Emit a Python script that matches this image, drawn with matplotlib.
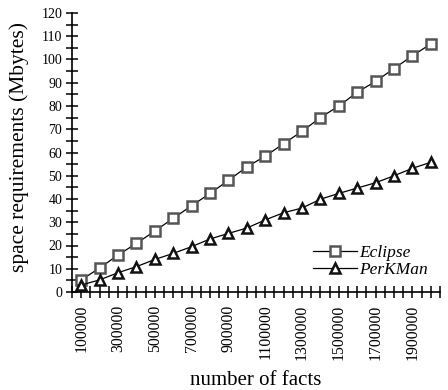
import matplotlib
matplotlib.use("Agg")
import matplotlib.pyplot as plt
from matplotlib.ticker import MultipleLocator, FixedLocator

facts = [100000 * i for i in range(1, 21)]
eclipse = [5.2, 10.3, 15.9, 20.9, 26.2, 31.7, 37.1, 42.4, 48.0, 53.8,
           58.4, 63.8, 69.1, 75.0, 80.0, 85.9, 90.6, 96.1, 101.6, 106.7]
perkman = [3.0, 5.2, 8.3, 10.9, 14.0, 16.6, 19.5, 22.8, 25.2, 27.5,
           31.0, 34.1, 36.1, 39.9, 42.4, 44.7, 47.0, 50.0, 53.2, 55.8]
xtick_labels = [100000, 300000, 500000, 700000, 900000, 1100000,
                1300000, 1500000, 1700000, 1900000]

plt.rcParams['font.family'] = ['Liberation Serif', 'DejaVu Serif']

fig = plt.figure(figsize=(4.48, 3.9), dpi=100)
ax = fig.add_axes([72/448, 1-292/390, (440-72)/448, (292-13)/390])

ax.plot(facts, eclipse, color='black', lw=0.9, marker='s', markersize=7,
        markerfacecolor='white', markeredgecolor='#555555', markeredgewidth=1.8,
        label='Eclipse')
ax.plot(facts, perkman, color='black', lw=0.9, marker='^', markersize=7.5,
        markerfacecolor='white', markeredgecolor='#111111', markeredgewidth=1.8,
        label='PerKMan')

ax.set_xlim(50000, 2050000)
ax.set_ylim(0, 120)
ax.spines['top'].set_visible(False)
ax.spines['right'].set_visible(False)
ax.spines['left'].set_linewidth(1.2)
ax.spines['bottom'].set_linewidth(1.2)

ax.xaxis.set_major_locator(FixedLocator(xtick_labels))
ax.xaxis.set_minor_locator(MultipleLocator(50000))
ax.set_xticklabels([str(v) for v in xtick_labels], rotation=90, fontsize=11.3)
ax.yaxis.set_major_locator(MultipleLocator(10))
ax.yaxis.set_minor_locator(MultipleLocator(5))
ax.tick_params(axis='both', which='both', direction='inout', length=8, width=1.1, color='black')
ax.tick_params(axis='y', labelsize=10, pad=3)
ax.tick_params(axis='x', pad=5)

ax.set_xlabel('number of facts', fontsize=15, labelpad=8)
ax.set_ylabel('space requirements (Mbytes)', fontsize=15.5)
ax.yaxis.set_label_coords(-0.118, 0.52)

leg = ax.legend(loc='lower right', bbox_to_anchor=(1.01, -0.005), frameon=False,
                prop={'family': 'Liberation Serif', 'style': 'italic', 'size': 12.5},
                handlelength=2.5, handletextpad=0.15, labelspacing=0.05)

fig.savefig('out.png', dpi=100)
